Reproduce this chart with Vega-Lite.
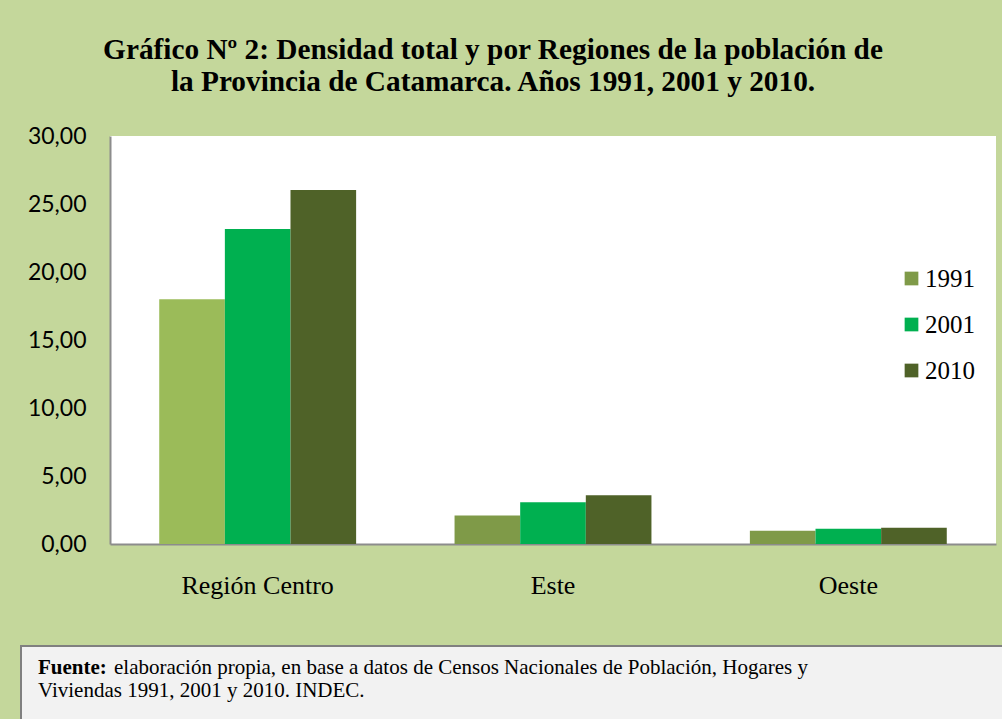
{
  "$schema": "https://vega.github.io/schema/vega-lite/v6.json",
  "background": "#C4D79B",
  "padding": {"left": 20, "top": 35, "right": 0, "bottom": 0},
  "title": {
    "text": ["Gráfico Nº 2: Densidad total y por Regiones de la población de", "la Provincia de Catamarca. Años 1991, 2001 y 2010."],
    "font": "Liberation Serif",
    "fontSize": 29.3,
    "fontWeight": "bold",
    "lineHeight": 32,
    "color": "#000000",
    "anchor": "middle",
    "dx": -23,
    "offset": 28
  },
  "config": {
    "locale": {"number": {"decimal": ",", "thousands": ".", "grouping": [3], "currency": ["$", ""]}},
    "view": {"stroke": null}
  },
  "spacing": 47,
  "vconcat": [
    {
      "spacing": 0,
      "hconcat": [
        {
          "width": 1,
          "height": 1,
          "data": {"values": []},
          "mark": {"type": "point", "opacity": 0},
          "encoding": {}
        },
        {
          "width": 886,
          "height": 408,
          "view": {"fill": "#FFFFFF", "stroke": null},
          "data": {
            "values": [
              {"region": "Región Centro", "year": "1991", "density": 18.0},
              {"region": "Región Centro", "year": "2001", "density": 23.16},
              {"region": "Región Centro", "year": "2010", "density": 26.03},
              {"region": "Este", "year": "1991", "density": 2.09},
              {"region": "Este", "year": "2001", "density": 3.07},
              {"region": "Este", "year": "2010", "density": 3.58},
              {"region": "Oeste", "year": "1991", "density": 0.98},
              {"region": "Oeste", "year": "2001", "density": 1.13},
              {"region": "Oeste", "year": "2010", "density": 1.2}
            ]
          },
          "mark": {"type": "bar"},
          "encoding": {
            "x": {
              "field": "region",
              "type": "nominal",
              "sort": ["Región Centro", "Este", "Oeste"],
              "scale": {"paddingInner": 0.3333, "paddingOuter": 0.1667},
              "axis": {
                "title": null,
                "labelAngle": 0,
                "labelFont": "Liberation Serif",
                "labelFontSize": 26,
                "labelColor": "#000000",
                "ticks": false,
                "labelPadding": 28,
                "domainColor": "#8C8C8C",
                "domainWidth": 2
              }
            },
            "xOffset": {
              "field": "year",
              "type": "nominal",
              "sort": ["1991", "2001", "2010"],
              "scale": {"paddingInner": 0, "paddingOuter": 0}
            },
            "y": {
              "field": "density",
              "type": "quantitative",
              "scale": {"domain": [0, 30], "nice": false},
              "axis": {
                "title": ".",
                "titleColor": "transparent",
                "titleFontSize": 5,
                "titlePadding": 0,
                "values": [0, 5, 10, 15, 20, 25, 30],
                "format": ".2f",
                "grid": false,
                "ticks": false,
                "labelFont": "Lato",
                "labelFontSize": 23,
                "labelColor": "#000000",
                "labelPadding": 24,
                "domainColor": "#8C8C8C",
                "domainWidth": 2
              }
            },
            "color": {
              "condition": {"test": "datum.region === 'Región Centro' && datum.year === '1991'", "value": "#9BBB59"},
              "field": "year",
              "type": "nominal",
              "scale": {"domain": ["1991", "2001", "2010"], "range": ["#7F9A48", "#00B050", "#4F6228"]},
              "legend": {
                "title": null,
                "orient": "none",
                "legendX": 878,
                "legendY": 130,
                "padding": 0,
                "symbolType": "square",
                "symbolSize": 188,
                "symbolStrokeWidth": 0,
                "labelFont": "Liberation Serif",
                "labelFontSize": 25,
                "labelColor": "#000000",
                "labelOffset": 1,
                "rowPadding": 20
              }
            }
          }
        }
      ]
    },
    {
      "width": 990,
      "height": 80,
      "view": {"fill": "#F2F2F2", "stroke": "#808080", "strokeWidth": 2},
      "data": {
        "values": [
          {"line": "1", "lead": "Fuente:", "text": "elaboración propia, en base a datos de Censos Nacionales de Población, Hogares y"},
          {"line": "2", "lead": "", "text": "Viviendas 1991, 2001 y 2010. INDEC."}
        ]
      },
      "encoding": {
        "y": {"field": "line", "type": "ordinal", "scale": {"type": "point", "range": [28, 51], "padding": 0}, "axis": null}
      },
      "layer": [
        {
          "mark": {"type": "text", "align": "left", "baseline": "alphabetic", "font": "Liberation Serif", "fontSize": 21, "fontWeight": "bold", "color": "#000000"},
          "encoding": {"x": {"value": 17}, "text": {"field": "lead"}}
        },
        {
          "transform": [{"filter": "datum.line === '1'"}],
          "mark": {"type": "text", "align": "left", "baseline": "alphabetic", "font": "Liberation Serif", "fontSize": 21, "color": "#000000", "dx": 76},
          "encoding": {"x": {"value": 17}, "text": {"field": "text"}}
        },
        {
          "transform": [{"filter": "datum.line === '2'"}],
          "mark": {"type": "text", "align": "left", "baseline": "alphabetic", "font": "Liberation Serif", "fontSize": 21, "color": "#000000"},
          "encoding": {"x": {"value": 17}, "text": {"field": "text"}}
        }
      ]
    }
  ]
}
